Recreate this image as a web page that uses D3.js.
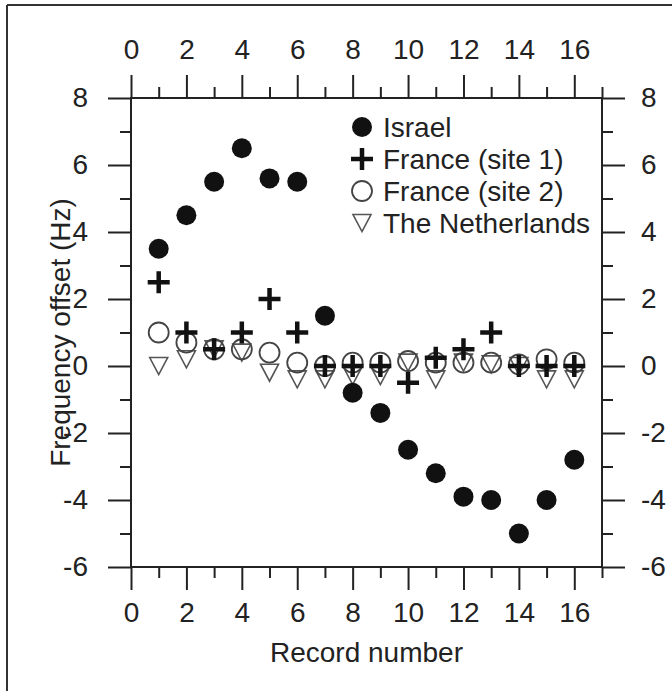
<!DOCTYPE html>
<html>
<head>
<meta charset="utf-8">
<script src="https://cdn.jsdelivr.net/npm/d3@7"></script>
<style>
  body { margin: 0; background: #fff; }
  text { font-family: "Liberation Sans", Arial, sans-serif; fill: #222; }
</style>
</head>
<body>
<svg id="canvas" width="672" height="691"></svg>
<script>
// record numbers and offsets (Hz)
const records = [1, 2, 3, 4, 5, 6, 7, 8, 9, 10, 11, 12, 13, 14, 15, 16];
const israel = [3.5, 4.5, 5.5, 6.5, 5.6, 5.5, 1.5, -0.8, -1.4, -2.5, -3.2, -3.9, -4.0, -5.0, -4.0, -2.8];
const franceSite1 = [2.5, 1.0, 0.5, 1.0, 2.0, 1.0, 0.0, 0.0, 0.0, -0.5, 0.25, 0.5, 1.0, 0.0, 0.0, 0.0];
const franceSite2 = [1.0, 0.7, 0.5, 0.5, 0.4, 0.1, 0.0, 0.1, 0.1, 0.15, 0.1, 0.1, 0.1, 0.05, 0.2, 0.1];
const netherlands = [0.0, 0.2, 0.5, 0.4, -0.2, -0.4, -0.4, -0.3, -0.3, 0.1, -0.4, 0.1, 0.05, 0.0, -0.4, -0.4];

const seriesNames = ["Israel", "France (site 1)", "France (site 2)", "The Netherlands"];
const xTicks = [0, 2, 4, 6, 8, 10, 12, 14, 16];
const yTicks = [-6, -4, -2, 0, 2, 4, 6, 8];

const svg = d3.select("#canvas");
const box = { left: 131, right: 602, top: 98, bottom: 567 };

const x = d3.scaleLinear().domain([0, 17]).range([box.left, box.right]);
const y = d3.scaleLinear().domain([-6, 8]).range([box.bottom, box.top]);

const ink = "#222";

function drawFrame() {
  // scanned page edge on left and top
  svg.append("line").attr("x1", 7).attr("y1", 5).attr("x2", 7).attr("y2", 691)
    .attr("stroke", "#333").attr("stroke-width", 2);
  svg.append("line").attr("x1", 7).attr("y1", 5).attr("x2", 672).attr("y2", 5)
    .attr("stroke", "#333").attr("stroke-width", 2);

  svg.append("rect")
    .attr("x", box.left).attr("y", box.top)
    .attr("width", box.right - box.left).attr("height", box.bottom - box.top)
    .attr("fill", "none").attr("stroke", ink).attr("stroke-width", 2);
}

function drawAxes() {
  const minorX = d3.range(1, 18, 2);
  const minorY = d3.range(-5, 8, 2);
  const major = 23, minor = 11;

  const bottom = d3.axisBottom(x).tickValues(xTicks).tickSize(major).tickPadding(12);
  const top = d3.axisTop(x).tickValues(xTicks).tickSize(major).tickPadding(16);
  const left = d3.axisLeft(y).tickValues(yTicks).tickSize(major).tickPadding(20);
  const right = d3.axisRight(y).tickValues(yTicks).tickSize(major).tickPadding(16);

  const axes = [
    { axis: bottom, minor: d3.axisBottom(x).tickValues(minorX), t: `translate(0,${box.bottom})` },
    { axis: top, minor: d3.axisTop(x).tickValues(minorX), t: `translate(0,${box.top})` },
    { axis: left, minor: d3.axisLeft(y).tickValues(minorY), t: `translate(${box.left},0)` },
    { axis: right, minor: d3.axisRight(y).tickValues(minorY), t: `translate(${box.right},0)` }
  ];

  axes.forEach(a => {
    const g = svg.append("g").attr("transform", a.t).call(a.axis);
    g.select(".domain").remove();
    g.selectAll("line").attr("stroke", ink).attr("stroke-width", 2);
    g.selectAll("text")
      .attr("font-size", 28)
      .attr("font-family", "Liberation Sans, Arial, sans-serif")
      .attr("fill", ink)
      .text(d => (d < 0 ? "-" + Math.abs(d) : d));

    const m = svg.append("g").attr("transform", a.t)
      .call(a.minor.tickSize(minor).tickFormat(""));
    m.select(".domain").remove();
    m.selectAll("line").attr("stroke", ink).attr("stroke-width", 2);
  });

  svg.append("text")
    .attr("x", (box.left + box.right) / 2).attr("y", 662)
    .attr("text-anchor", "middle").attr("font-size", 28)
    .text("Record number");

  svg.append("text")
    .attr("transform", `translate(70,${(box.top + box.bottom) / 2}) rotate(-90)`)
    .attr("text-anchor", "middle").attr("font-size", 28)
    .text("Frequency offset (Hz)");
}

// marker painters, each draws into a selection of g elements
const markers = {
  disc: g => g.append("circle").attr("r", 10).attr("fill", "#111"),
  plus: g => g.append("path").attr("d", "M-11,0H11M0,-11V11")
    .attr("stroke", "#111").attr("stroke-width", 4.5).attr("fill", "none"),
  ring: g => g.append("circle").attr("r", 10).attr("fill", "none")
    .attr("stroke", "#444").attr("stroke-width", 1.8),
  tri: g => g.append("path").attr("d", "M-9,-8.5L9,-8.5L0,8.5Z").attr("fill", "none")
    .attr("stroke", "#555").attr("stroke-width", 1.6)
};

function drawSeries(values, marker) {
  const pts = records.map((r, i) => ({ r, v: values[i] }));
  const g = svg.append("g")
    .selectAll("g")
    .data(pts)
    .enter()
    .append("g")
    .attr("transform", d => `translate(${x(d.r)},${y(d.v)})`);
  markers[marker](g);
}

function drawLegend() {
  const kinds = ["disc", "plus", "ring", "tri"];
  const rows = svg.append("g")
    .selectAll("g")
    .data(seriesNames)
    .enter()
    .append("g")
    .attr("transform", (d, i) => `translate(362,${127 + i * 32})`);
  rows.each(function (d, i) {
    markers[kinds[i]](d3.select(this));
  });
  rows.append("text")
    .attr("x", 21).attr("y", 10)
    .attr("font-size", 28)
    .text(d => d);
}

function main() {
  drawFrame();
  drawAxes();
  drawSeries(netherlands, "tri");
  drawSeries(franceSite2, "ring");
  drawSeries(franceSite1, "plus");
  drawSeries(israel, "disc");
  drawLegend();
}

main();
</script>
</body>
</html>
